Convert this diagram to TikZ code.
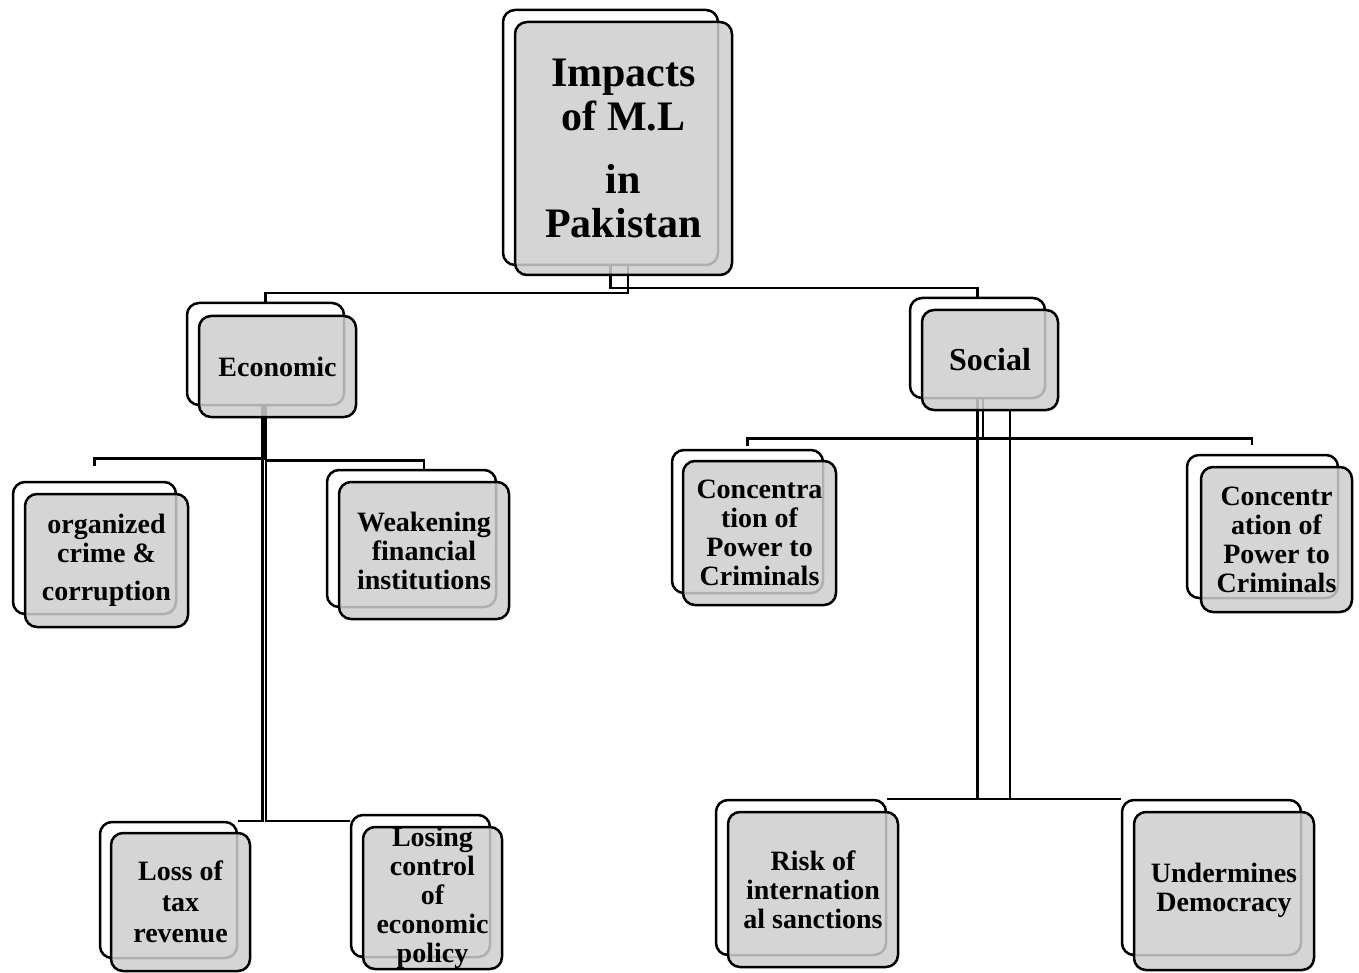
\documentclass[tikz,border=0pt]{standalone}
\usepackage{fontspec}
\setmainfont{Liberation Serif}
\usepackage{xcolor}
\usepackage{tikz}
\usetikzlibrary{positioning,calc}
\definecolor{boxgray}{RGB}{206,206,206}
\pgfdeclarelayer{background}
\pgfsetlayers{background,main}
\tikzstyle{back} = [draw, rectangle, rounded corners=12pt, fill=white,
    line width=2.5pt, inner sep=0pt]
\tikzstyle{front} = [draw, rectangle, rounded corners=12pt, fill=boxgray,
    fill opacity=0.85, text opacity=1, line width=2.5pt, inner sep=0pt,
    align=center, font=\fontsize{28}{29}\selectfont\bfseries]
\tikzstyle{link} = [line width=2.5pt]
\tikzstyle{trunk} = [line width=6pt]

\begin{document}
\begin{tikzpicture}[x=1pt,y=-1pt]
		\useasboundingbox (0,0) rectangle (1359,973);
		% top
		\node[back, minimum width=215pt, minimum height=255pt] (rootB) at (610.5,137.5) {};
		\node[front, minimum width=217pt, minimum height=253pt,
		  font=\fontsize{42}{44}\selectfont\bfseries] (rootF) at (623.5,148.5)
		  {Impacts\\of M.L\\[19pt]in\\Pakistan};
		% second level
		\node[back, minimum width=157pt, minimum height=102pt] (econB) at (265.5,354) {};
		\node[front, minimum width=157pt, minimum height=101pt] (econF) at (277.5,366.5) {Economic};
		\node[back, minimum width=135pt, minimum height=100pt] (socB) at (977.5,348) {};
		\node[front, minimum width=136pt, minimum height=100pt,
		  font=\fontsize{32}{33}\selectfont\bfseries] (socF) at (990,360) {Social};
		% economic side
		\node[back, minimum width=163pt, minimum height=132pt] (orgB) at (94.5,548) {};
		\node[front, minimum width=163pt, minimum height=133pt] (orgF) at (106.5,560.5)
		  {organized\\crime \&\\[9pt]corruption};
		\node[back, minimum width=169pt, minimum height=137pt] (weakB) at (411.5,538.5) {};
		\node[front, minimum width=170pt, minimum height=137pt] (weakF) at (424,550.5)
		  {Weakening\\financial\\institutions};
		\node[back, minimum width=137pt, minimum height=136pt] (lossB) at (168.5,890) {};
		\node[front, minimum width=139pt, minimum height=138pt] (lossF) at (180.5,902)
		  {Loss of\\[2pt]tax\\[2pt]revenue};
		\node[back, minimum width=139pt, minimum height=142pt] (losingB) at (420.5,886) {};
		\node[front, minimum width=139pt, minimum height=142pt] (losingF) at (432.5,898)
		  {Losing\\control\\of\\economic\\policy};
		% social side
		\node[back, minimum width=151pt, minimum height=143pt] (conlB) at (747.5,521.5) {};
		\node[front, minimum width=153pt, minimum height=144pt] (conlF) at (759.5,533)
		  {Concentra\\tion of\\Power to\\Criminals};
		\node[back, minimum width=151pt, minimum height=143pt] (conrB) at (1262.5,526.5) {};
		\node[front, minimum width=151pt, minimum height=145pt] (conrF) at (1276.5,539.5)
		  {Concentr\\ation of\\Power to\\Criminals};
		\node[back, minimum width=170pt, minimum height=155pt] (riskB) at (801,877.5) {};
		\node[front, minimum width=170pt, minimum height=155pt] (riskF) at (813,889.5)
		  {Risk of\\internation\\al sanctions};
		\node[back, minimum width=179pt, minimum height=155pt] (undB) at (1211.5,877.5) {};
		\node[front, minimum width=180pt, minimum height=158pt] (undF) at (1224,891)
		  {\\[-10pt]Undermines\\Democracy};

		\begin{pgfonlayer}{background}
		\draw[link] ([xshift=17.5pt]rootB.south) -- ++(0,27) -| (econB.north);
		\draw[link] (rootB.south) -- ++(0,22) -| (socB.north);
		\draw[trunk] ([xshift=-1.5pt]econB.south) -- ++(0,54);
		\draw[link] ([xshift=-3pt]econB.south) -- ++(0,52) -| ([yshift=15pt]orgB.north);
		\draw[link] ([xshift=0.5pt]econB.south) -- ++(0,54) -| (weakF.north |- weakB.north);
		\draw[link] ([xshift=-3pt]econB.south) |- (lossB.north east);
		\draw[link] ([xshift=0.5pt]econB.south) |- (losingB.west |- lossB.north east);
		\draw[link] ([xshift=5.5pt]socB.south) -- ++(0,39) coordinate (sj);
		\draw[link] ([yshift=3pt]conlB.north) |- (sj) -| ([xshift=-10.5pt,yshift=9pt]conrB.north);
		\draw[link] (socB.south) -- (socB.south |- riskB.north east);
		\draw[link] ([xshift=20pt]socF.south) -- ([xshift=20pt]socF.south |- riskB.north east);
		\draw[link] (riskB.north east) -- (undB.north west);
		\end{pgfonlayer}
	\end{tikzpicture}
\end{document}
